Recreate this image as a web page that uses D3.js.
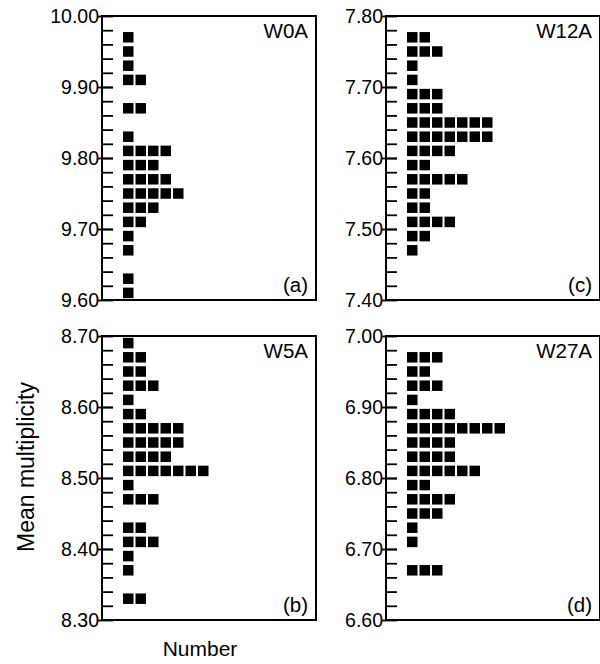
<!DOCTYPE html>
<html>
<head>
<meta charset="utf-8">
<script src="https://cdn.jsdelivr.net/npm/d3@7"></script>
<style>
  body { margin: 0; background: #fff; }
  svg text { font-family: "Liberation Sans", Arial, sans-serif; fill: #000; }
</style>
</head>
<body>
<svg width="600" height="664"></svg>
<script>
// panel names, tags and y ranges
var panelNames = ["W0A", "W5A", "W12A", "W27A"];
var panelTags = ["(a)", "(b)", "(c)", "(d)"];
var panelLo = [9.60, 8.30, 7.40, 6.60];
var panelHi = [10.00, 8.70, 7.80, 7.00];

// bin centres and number of samples in each
var w0aCenters = [9.97, 9.95, 9.93, 9.91, 9.87, 9.83, 9.81, 9.79, 9.77, 9.75, 9.73, 9.71, 9.69, 9.67, 9.63, 9.61];
var w0aCounts  = [1, 1, 1, 2, 2, 1, 4, 3, 4, 5, 3, 2, 1, 1, 1, 1];

var w5aCenters = [8.69, 8.67, 8.65, 8.63, 8.61, 8.59, 8.57, 8.55, 8.53, 8.51, 8.49, 8.47, 8.43, 8.41, 8.39, 8.37, 8.33];
var w5aCounts  = [1, 2, 2, 3, 1, 2, 5, 5, 4, 7, 1, 3, 2, 3, 1, 1, 2];

var w12aCenters = [7.77, 7.75, 7.73, 7.71, 7.69, 7.67, 7.65, 7.63, 7.61, 7.59, 7.57, 7.55, 7.53, 7.51, 7.49, 7.47];
var w12aCounts  = [2, 3, 1, 1, 3, 3, 7, 7, 4, 2, 5, 2, 2, 4, 2, 1];

var w27aCenters = [6.97, 6.95, 6.93, 6.91, 6.89, 6.87, 6.85, 6.83, 6.81, 6.79, 6.77, 6.75, 6.73, 6.71, 6.67];
var w27aCounts  = [3, 2, 3, 1, 4, 8, 4, 4, 6, 2, 4, 3, 1, 1, 3];

var allCenters = [w0aCenters, w5aCenters, w12aCenters, w27aCenters];
var allCounts = [w0aCounts, w5aCounts, w12aCounts, w27aCounts];

// frame positions: a, b on the left, c, d on the right
var frames = [
    {x: 102, y: 16},
    {x: 102, y: 336},
    {x: 386, y: 16},
    {x: 386, y: 336}
];
var pw = 214, ph = 284;

var svg = d3.select('svg');

panelNames.forEach(function(name, p) {
    var f = frames[p];
    var g = svg.append('g').attr('transform', 'translate(' + f.x + ',' + f.y + ')');

    var yScale = d3.scaleLinear()
        .domain([panelLo[p], panelHi[p]])
        .range([ph, 0]);

    var xScale = d3.scaleLinear()
        .domain([0, 16])
        .range([21, 21 + 16 * 12.5]);

    // minor ticks every 0.02, pointing into the frame
    var minorVals = d3.range(1, 20).map(i => panelLo[p] + i * 0.02);
    var majorVals = d3.range(0, 5).map(i => panelLo[p] + i * 0.10);

    g.append('g')
        .call(d3.axisLeft(yScale).tickValues(minorVals).tickSize(-11).tickFormat(''))
        .call(a => a.select('.domain').remove())
        .selectAll('line').attr('stroke', '#000').attr('stroke-width', 1.8);

    // major ticks stick out a little to the left and carry labels
    var major = g.append('g')
        .call(d3.axisLeft(yScale).tickValues(majorVals).tickSize(5).tickPadding(1)
            .tickFormat(d3.format('.2f')));
    major.select('.domain').remove();
    major.selectAll('line').attr('stroke', '#000').attr('stroke-width', 1.8)
        .attr('x2', -5).attr('x1', 11);
    major.selectAll('text')
        .attr('font-size', 19.5)
        .attr('font-family', '"Liberation Sans", Arial, sans-serif')
        .attr('fill', '#000')
        .attr('x', -3);

    // squares
    var rows = [];
    allCenters[p].forEach(function(c, i) {
        for (var k = 0; k < allCounts[p][i]; k++) rows.push({v: c, k: k});
    });

    g.selectAll('rect.sq')
        .data(rows)
        .enter().append('rect')
        .attr('class', 'sq')
        .attr('x', d => xScale(d.k))
        .attr('y', d => yScale(d.v) - 5.25)
        .attr('width', 10.5)
        .attr('height', 10.5)
        .attr('fill', '#000');

    // frame
    g.append('rect')
        .attr('width', pw)
        .attr('height', ph)
        .attr('fill', 'none')
        .attr('stroke', '#000')
        .attr('stroke-width', 2);

    g.append('text')
        .attr('x', pw - 8)
        .attr('y', 22)
        .attr('text-anchor', 'end')
        .attr('font-size', 20.5)
        .text(name);

    g.append('text')
        .attr('x', pw - 8)
        .attr('y', ph - 8)
        .attr('text-anchor', 'end')
        .attr('font-size', 20.5)
        .text(panelTags[p]);
});

svg.append('text')
    .attr('transform', 'translate(34, 467) rotate(-90)')
    .attr('text-anchor', 'middle')
    .attr('font-size', 23)
    .text('Mean multiplicity');

svg.append('text')
    .attr('x', 200)
    .attr('y', 656)
    .attr('text-anchor', 'middle')
    .attr('font-size', 21)
    .text('Number');
</script>
</body>
</html>
